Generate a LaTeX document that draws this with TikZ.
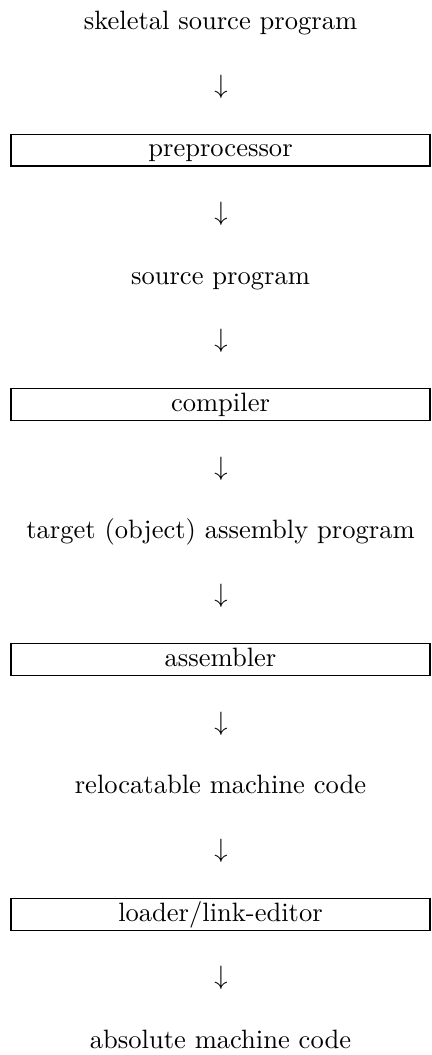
\documentclass[tikz,border=0pt]{standalone}
\begin{document}
\begin{tikzpicture}[x=0.37665pt,y=-0.37665pt,
  stage/.style={anchor=base},
  stagebox/.style={anchor=base,draw,line width=0.4pt,inner sep=0pt,
    minimum width=157.8pt,text height=8.5pt,text depth=3.5pt},
  downarrow/.style={anchor=base,inner sep=0pt}]
  \useasboundingbox (0,0) rectangle (432,1055);

  \node[stage] (skel) at (220.5,29.3) {skeletal source program};
  \node[downarrow] (a1) at (221,93.0) {$\downarrow$};
  \node[stagebox] (pre) at (220.5,156.7) {preprocessor};
  \node[downarrow] (a2) at (221,220.4) {$\downarrow$};
  \node[stage] (src) at (220.5,284.1) {source program};
  \node[downarrow] (a3) at (221,347.8) {$\downarrow$};
  \node[stagebox] (comp) at (220.5,411.5) {compiler};
  \node[downarrow] (a4) at (221,475.2) {$\downarrow$};
  \node[stage] (tgt) at (220.5,538.9) {target (object) assembly program};
  \node[downarrow] (a5) at (221,602.6) {$\downarrow$};
  \node[stagebox] (asm) at (220.5,666.3) {assembler};
  \node[downarrow] (a6) at (221,730.0) {$\downarrow$};
  \node[stage] (reloc) at (220.5,793.7) {relocatable machine code};
  \node[downarrow] (a7) at (221,857.4) {$\downarrow$};
  \node[stagebox] (load) at (220.5,921.1) {loader/link-editor};
  \node[downarrow] (a8) at (221,984.8) {$\downarrow$};
  \node[stage] (abs) at (220.5,1048.5) {absolute machine code};
\end{tikzpicture}
\end{document}
